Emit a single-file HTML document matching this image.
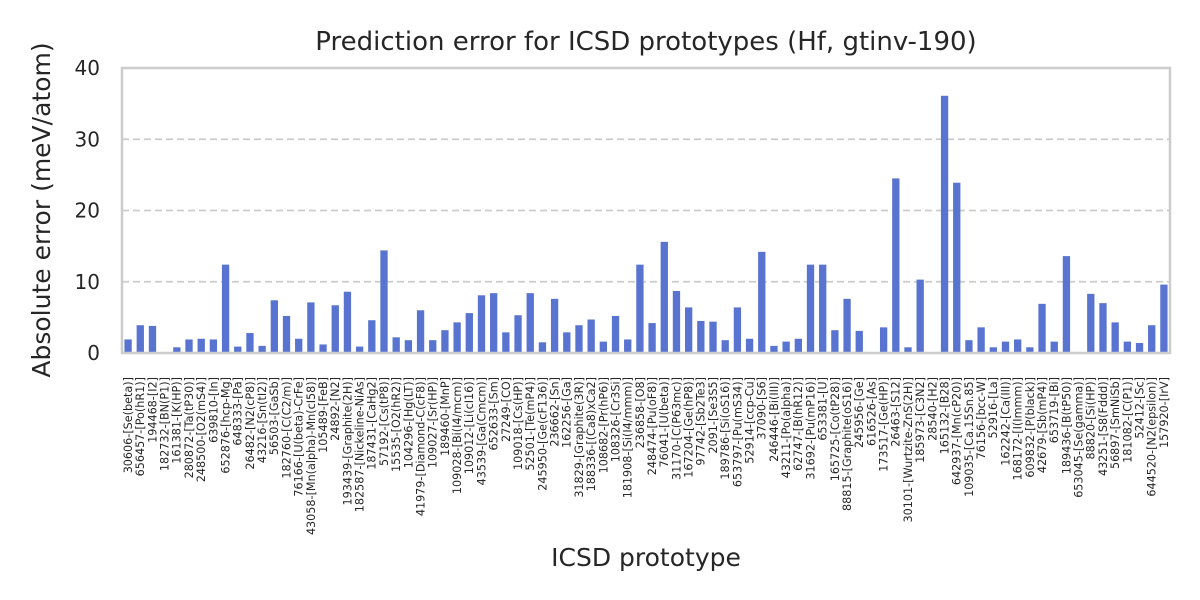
<!DOCTYPE html>
<html><head><meta charset="utf-8"><style>
body{margin:0;background:#fff;}
svg{display:block;font-family:"DejaVu Sans","Liberation Sans",sans-serif;}
</style></head><body>
<svg id="chart" width="1200" height="600">
<rect width="1200" height="600" fill="#fff"/>
<g id="grid"></g>
<g id="bars"></g>
<g id="yticks"></g>
<g id="xticks"></g>
<rect x="122" y="68" width="1048" height="285" fill="none" stroke="#cccccc" stroke-width="2.5"/>
<text x="646" y="50" text-anchor="middle" font-size="26" fill="#262626">Prediction error for ICSD prototypes (Hf, gtinv-190)</text>
<text transform="translate(50,210) rotate(-90)" text-anchor="middle" font-size="25" fill="#262626">Absolute error (meV/atom)</text>
<text x="646" y="566" text-anchor="middle" font-size="25" fill="#262626">ICSD prototype</text>
</svg>
<script>
const categories=["30606-[Se(beta)]","656457-[Po(hR1)]","194468-[I2]","182732-[BN(P1)]","161381-[K(HP)]","280872-[Ta(tP30)]","248500-[O2(mS4)]","639810-[In]","652876-[hcp-Mg]","648333-[Pa]","26482-[N2(cP8)]","43216-[Sn(tI2)]","56503-[GaSb]","182760-[C(C2/m)]","76166-[U(beta)-CrFe]","43058-[Mn(alpha)-Mn(cI58)]","105489-[FeB]","24892-[N2]","193439-[Graphite(2H)]","182587-[Nickeline-NiAs]","187431-[CaHg2]","57192-[Cs(tP8)]","15535-[O2(hR2)]","104296-[Hg(LT)]","41979-[Diamond-C(cF8)]","109027-[Sr(HP)]","189460-[MnP]","109028-[Bi(I4/mcm)]","109012-[Li(cI16)]","43539-[Ga(Cmcm)]","652633-[Sm]","27249-[CO]","109018-[Cs(HP)]","52501-[Te(mP4)]","245950-[Ge(cF136)]","236662-[Sn]","162256-[Ga]","31829-[Graphite(3R)]","188336-[(Ca8)xCa2]","108682-[Pr(hP6)]","108326-[Cr3Si]","181908-[Si(I4/mmm)]","236858-[O8]","248474-[Pu(oF8)]","76041-[U(beta)]","31170-[C(P63mc)]","167204-[Ge(hP8)]","97742-[Sb2Te3]","2091-[Se3S5]","189786-[Si(oS16)]","653797-[Pu(mS34)]","52914-[ccp-Cu]","37090-[S6]","246446-[Bi(III)]","43211-[Po(alpha)]","62747-[B(hR12)]","31692-[Pu(mP16)]","653381-[U]","165725-[Co(tP28)]","88815-[Graphite(oS16)]","245956-[Ge]","616526-[As]","173517-[Ge(HP)]","26463-[S12]","30101-[Wurtzite-ZnS(2H)]","185973-[C3N2]","28540-[H2]","165132-[B28]","642937-[Mn(cP20)]","109035-[Ca.15Sn.85]","76156-[bcc-W]","52916-[La]","162242-[Ca(III)]","168172-[I(Immm)]","609832-[P(black)]","42679-[Sb(mP4)]","653719-[Bi]","189436-[B(tP50)]","653045-[Se(gamma)]","88820-[Si(HP)]","43251-[S8(Fddd)]","56897-[SmNiSb]","181082-[C(P1)]","52412-[Sc]","644520-[N2(epsilon)]","157920-[IrV]"];
const errors=[1.9,3.9,3.8,0,0.8,1.9,2.0,1.9,12.4,0.9,2.8,1.0,7.4,5.2,2.0,7.1,1.2,6.7,8.6,0.9,4.6,14.4,2.2,1.8,6.0,1.8,3.2,4.3,5.6,8.1,8.4,2.9,5.3,8.4,1.5,7.6,2.9,3.9,4.7,1.6,5.2,1.9,12.4,4.2,15.6,8.7,6.4,4.5,4.4,1.8,6.4,2.0,14.2,1.0,1.6,2.0,12.4,12.4,3.2,7.6,3.1,0,3.6,24.5,0.8,10.3,0,36.1,23.9,1.8,3.6,0.8,1.6,1.9,0.8,6.9,1.6,13.6,0,8.3,7.0,4.3,1.6,1.4,3.9,9.6];
const yTicks=[0,10,20,30,40];
const ns="http://www.w3.org/2000/svg";
const X0=122,X1=1170,Y0=353,Y1=68,YMAX=40;
const step=(X1-X0)/categories.length;
function xc(i){return X0+step*(i+0.5);}
function ys(v){return Y0-(v/YMAX)*(Y0-Y1);}
const grid=document.getElementById('grid'),bars=document.getElementById('bars'),yt=document.getElementById('yticks'),xt=document.getElementById('xticks');
yTicks.forEach(t=>{
  if(t>0&&t<YMAX){
    const l=document.createElementNS(ns,'line');
    l.setAttribute('x1',X0);l.setAttribute('x2',X1);l.setAttribute('y1',ys(t));l.setAttribute('y2',ys(t));
    l.setAttribute('stroke','#cccccc');l.setAttribute('stroke-width','1.8');l.setAttribute('stroke-dasharray','7 4');
    
    
    grid.appendChild(l);
  }
  const tx=document.createElementNS(ns,'text');
  tx.setAttribute('x',100);tx.setAttribute('y',ys(t)+7);tx.setAttribute('text-anchor','end');
  tx.setAttribute('font-size','20');tx.setAttribute('fill','#262626');tx.textContent=t;
  
  
  yt.appendChild(tx);
});
const bw=step*0.6;
errors.forEach((v,i)=>{
  const r=document.createElementNS(ns,'rect');
  r.setAttribute('x',xc(i)-bw/2);r.setAttribute('width',bw);
  r.setAttribute('y',ys(v));r.setAttribute('height',Y0-ys(v));
  r.setAttribute('fill','#5874d0');
  
  
  bars.appendChild(r);
});
categories.forEach((c,i)=>{
  const t=document.createElementNS(ns,'text');
  const x=xc(i),y=377;
  t.setAttribute('x',x);t.setAttribute('y',y);t.setAttribute('dy','0.35em');
  t.setAttribute('text-anchor','end');t.setAttribute('font-size','11.2');t.setAttribute('fill','#262626');
  t.setAttribute('transform','rotate(-90 '+x+' '+y+')');
  t.textContent=c;
  
  
  xt.appendChild(t);
});
</script>
</body></html>
